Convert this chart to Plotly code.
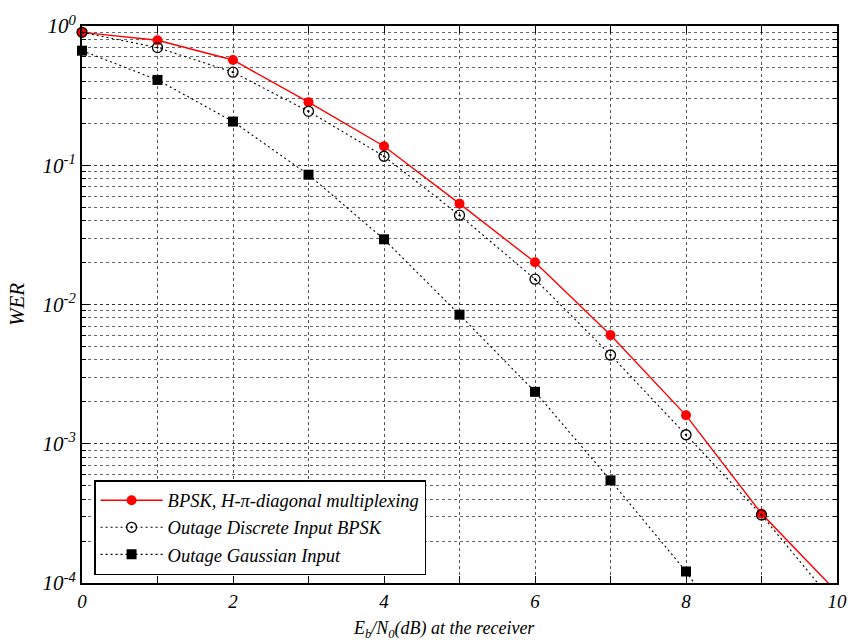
import plotly.graph_objects as go

# Eb/N0 in dB
snr = [0, 1, 2, 3, 4, 5, 6, 7, 8, 9, 10]
wer_bpsk = [0.90, 0.79, 0.57, 0.284, 0.137, 0.053, 0.0201, 0.00603, 0.0016, 3.15e-4, 8.6e-5]
wer_discrete = [0.90, 0.70, 0.466, 0.244, 0.116, 0.0438, 0.0152, 0.00434, 0.00116, 3.08e-4, 6.8e-5]
snr_gauss = [0, 1, 2, 3, 4, 5, 6, 7, 8, 9]
wer_gauss = [0.665, 0.41, 0.206, 0.0855, 0.0294, 0.00845, 0.00236, 5.46e-4, 1.21e-4, 2.0e-5]

names = [
    "<i>BPSK, H-π-diagonal multiplexing</i>",
    "<i>Outage Discrete Input BPSK</i>",
    "<i>Outage Gaussian Input</i>",
]
x_ticks = [0, 1, 2, 3, 4, 5, 6, 7, 8, 9, 10]
x_ticktext = ["<i>%d</i>" % v if v % 2 == 0 else "" for v in x_ticks]
y_ticks = [1e-4, 1e-3, 1e-2, 1e-1, 1]
y_ticktext = ["<i>10<sup>-4</sup></i>", "<i>10<sup>-3</sup></i>", "<i>10<sup>-2</sup></i>",
              "<i>10<sup>-1</sup></i>", "<i>10<sup>0</sup></i>"]
y_minor = [k * 10.0 ** e for e in range(-4, 0) for k in range(2, 10)]

Y_MIN = 1e-4

fig = go.Figure()


def add_series(x, y, name, line, marker):
    # markers only where the value lies inside the plotted range
    xin = [a for a, b in zip(x, y) if b >= Y_MIN]
    yin = [b for b in y if b >= Y_MIN]
    fig.add_trace(go.Scatter(x=xin, y=yin, name=name, mode="lines+markers",
                             line=line, marker=marker, cliponaxis=False))
    n = len(xin)
    if n < len(x):
        # continuation of the curve past the lower axis limit
        fig.add_trace(go.Scatter(x=x[n - 1:n + 1], y=y[n - 1:n + 1], mode="lines",
                                 line=line, showlegend=False, hoverinfo="skip"))


add_series(snr, wer_bpsk, names[0],
           dict(color="#ff0000", width=1.4),
           dict(symbol="circle", size=10, color="#ff0000"))
add_series(snr, wer_discrete, names[1],
           dict(color="black", width=1.1, dash="2px,3px"),
           dict(symbol="circle-open-dot", size=10, color="black", line=dict(width=1.3)))
add_series(snr_gauss, wer_gauss, names[2],
           dict(color="black", width=1.1, dash="2px,3px"),
           dict(symbol="square", size=10, color="black"))

font_family = "Liberation Serif"

fig.update_layout(
    width=859, height=640,
    margin=dict(l=82, r=17, t=22, b=57),
    paper_bgcolor="white", plot_bgcolor="white",
    font=dict(family=font_family, color="black", size=18),
    showlegend=True,
    legend=dict(x=0.016, y=0.014, xanchor="left", yanchor="bottom",
                bordercolor="black", borderwidth=1.5, bgcolor="white",
                font=dict(size=18.5, family=font_family), tracegroupgap=0,
                itemwidth=62),
    xaxis=dict(
        range=[0, 10], tickvals=x_ticks, ticktext=x_ticktext,
        ticks="inside", ticklen=7, tickwidth=1, tickcolor="black",
        showline=True, linecolor="black", linewidth=2, mirror="ticks",
        showgrid=True, gridcolor="#555555", griddash="dot", gridwidth=1,
        zeroline=False, tickfont=dict(size=19),
    ),
    yaxis=dict(
        type="log", range=[-4, 0], tickvals=y_ticks, ticktext=y_ticktext,
        ticks="inside", ticklen=7, tickwidth=1, tickcolor="black",
        showline=True, linecolor="black", linewidth=2, mirror="ticks",
        showgrid=True, gridcolor="#333333", griddash="dot", gridwidth=1,
        zeroline=False, tickfont=dict(size=21),
        minor=dict(tickvals=y_minor, ticks="inside", ticklen=4, tickcolor="black",
                   showgrid=True, gridcolor="#666666", griddash="dot", gridwidth=1),
        title=dict(text="<i>WER</i>", font=dict(size=21), standoff=12),
    ),
    annotations=[
        dict(text="<i>E<sub>b</sub>/N<sub>0</sub>(dB) at the receiver</i>",
             xref="paper", yref="paper", x=0.479, y=0, yshift=-33,
             xanchor="center", yanchor="top", showarrow=False,
             font=dict(size=18, family=font_family)),
    ],
)

fig.write_html("out.html")
